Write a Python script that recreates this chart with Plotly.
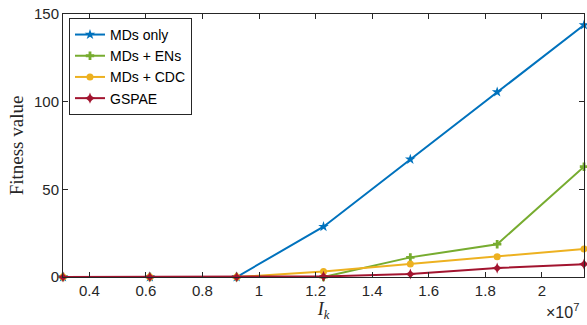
import plotly.graph_objects as go

# Data
x_vals = [3.07e6, 6.14e6, 9.21e6, 1.228e7, 1.535e7, 1.842e7, 2.149e7]
series_names = ["MDs only", "MDs + ENs", "MDs + CDC", "GSPAE"]
mds_only = [0, 0, 0, 28.7, 67.1, 105.5, 143.7]
mds_ens = [0, 0, 0, 0, 11.2, 18.7, 62.9]
mds_cdc = [0, 0, 0, 3.2, 7.4, 11.6, 16.0]
gspae = [0, 0, 0, 0.3, 1.7, 5.1, 7.3]
x_tickvals = [4e6, 6e6, 8e6, 1e7, 1.2e7, 1.4e7, 1.6e7, 1.8e7, 2e7]
x_ticktext = ["0.4", "0.6", "0.8", "1", "1.2", "1.4", "1.6", "1.8", "2"]
y_tickvals = [0, 50, 100, 150]

colors = ["#0072BD", "#77AC30", "#EDB120", "#A2142F"]
symbols = ["star", "cross", "circle", "star-diamond"]
sizes = [8, 7, 7, 8]

fig = go.Figure()
for name, ys, c, s, sz in zip(series_names, [mds_only, mds_ens, mds_cdc, gspae], colors, symbols, sizes):
    fig.add_trace(go.Scatter(
        x=x_vals, y=ys, name=name, mode="lines+markers",
        line=dict(color=c, width=2),
        marker=dict(symbol=s, size=sz, color=c),
        cliponaxis=False,
    ))

axis_color = "#262626"
fig.update_layout(
    width=587, height=325,
    margin=dict(l=63, r=3, t=14, b=48),
    plot_bgcolor="white", paper_bgcolor="white",
    font=dict(family="Liberation Sans, Arial, sans-serif", size=14, color=axis_color),
    showlegend=True,
    legend=dict(
        x=0.0115, y=0.985, xanchor="left", yanchor="top",
        bordercolor=axis_color, borderwidth=1, bgcolor="white",
        font=dict(size=14, color="black"),
        itemwidth=30, tracegroupgap=0,
    ),
    xaxis=dict(
        range=[3.07e6, 2.149e7], tickvals=x_tickvals, ticktext=x_ticktext,
        showgrid=False, zeroline=False, showline=True, mirror="ticks",
        linecolor=axis_color, linewidth=1, ticks="inside", ticklen=5,
        tickcolor=axis_color, tickfont=dict(size=15),
        title=dict(text="<i>I</i><sub><i>k</i></sub>",
                   font=dict(family="Liberation Serif, Times New Roman, serif", size=18),
                   standoff=0),
    ),
    yaxis=dict(
        range=[0, 150], tickvals=y_tickvals,
        showgrid=False, zeroline=False, showline=True, mirror="ticks",
        linecolor=axis_color, linewidth=1, ticks="inside", ticklen=5,
        tickcolor=axis_color, tickfont=dict(size=15),
        title=dict(text="Fitness value",
                   font=dict(family="Liberation Serif, Times New Roman, serif", size=19),
                   standoff=5),
    ),
    annotations=[dict(
        text="×10<sup>7</sup>", xref="paper", yref="paper",
        x=0.995, y=-0.085, xanchor="right", yanchor="top", showarrow=False,
        font=dict(size=16, color=axis_color),
    )],
)

fig.write_html("out.html", config={"displayModeBar": False},
               post_script="document.body.style.margin='0px';document.body.style.overflow='hidden';")
